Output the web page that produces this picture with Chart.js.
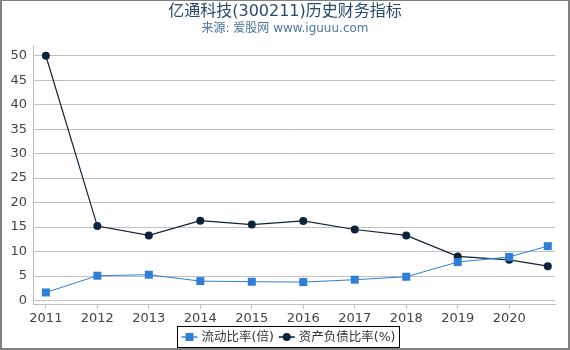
<!DOCTYPE html>
<html>
<head>
<meta charset="utf-8">
<script src="https://cdn.jsdelivr.net/npm/chart.js@4"></script>
<style>
  body { margin: 0; background: #fff; }
  #wrap { position: relative; width: 570px; height: 350px; }
  #frame {
    position: absolute; left: 0; top: 0; width: 570px; height: 350px;
    box-sizing: border-box; border: 2px solid #808080; border-top-width: 1px;
    pointer-events: none;
  }
</style>
</head>
<body>
<div id="wrap">
  <canvas id="myChart" width="570" height="350"></canvas>
  <div id="frame"></div>
</div>
<script>
const years = [2011, 2012, 2013, 2014, 2015, 2016, 2017, 2018, 2019, 2020, 2020.75];
const yearTicks = [2011, 2012, 2013, 2014, 2015, 2016, 2017, 2018, 2019, 2020];
const currentRatio = [1.64, 5.06, 5.26, 3.96, 3.83, 3.76, 4.24, 4.85, 7.85, 8.9, 11.1];
const debtRatio = [50.0, 15.2, 13.3, 16.3, 15.5, 16.25, 14.5, 13.3, 9.0, 8.3, 7.0];
const yTicks = [0, 5, 10, 15, 20, 25, 30, 35, 40, 45, 50];

const titleText = '亿通科技(300211)历史财务指标';
const subtitleText = '来源: 爱股网 www.iguuu.com';
const seriesNames = ['流动比率(倍)', '资产负债比率(%)'];
const colors = ['#2f7ed8', '#0d233a'];

const FONT = '"DejaVu Sans", "Noto Sans CJK SC", sans-serif';

function pairs(xs, ys) {
    return xs.map((x, i) => ({ x: x, y: ys[i] }));
}

// title, subtitle and boxed legend
const decor = {
    id: 'decor',
    afterDraw(chart) {
        const ctx = chart.ctx;
        const cx = chart.width / 2;
        ctx.save();
        ctx.textAlign = 'center';
        ctx.textBaseline = 'middle';
        ctx.fillStyle = '#274b6d';
        ctx.font = '16px ' + FONT;
        ctx.fillText(titleText, cx, 12);
        ctx.fillStyle = '#4d759e';
        ctx.font = '12px ' + FONT;
        ctx.fillText(subtitleText, cx, 29);

        // legend
        ctx.font = '12.5px ' + FONT;
        const iconW = 16, gap = 4, itemGap = 5, padX = 4;
        const widths = seriesNames.map(n => ctx.measureText(n).width);
        let total = padX * 2;
        widths.forEach((w, i) => { total += iconW + gap + w + (i ? itemGap : 0); });
        const left = Math.round(cx - total / 2 + 3) + 0.5;
        const top = 326.5, h = 21, my = 337;
        ctx.strokeStyle = '#000';
        ctx.lineWidth = 1;
        ctx.strokeRect(left, top, Math.round(total), h);
        let x = left + padX;
        ctx.textAlign = 'left';
        seriesNames.forEach((n, i) => {
            if (i) x += itemGap;
            ctx.strokeStyle = colors[i];
            ctx.lineWidth = 2;
            ctx.globalAlpha = i ? 0.8 : 0.7;
            ctx.beginPath();
            ctx.moveTo(x, my);
            ctx.lineTo(x + iconW, my);
            ctx.stroke();
            ctx.globalAlpha = 1;
            ctx.fillStyle = colors[i];
            if (i === 0) {
                ctx.fillRect(x + iconW / 2 - 4, my - 4, 8, 8);
            } else {
                ctx.beginPath();
                ctx.arc(x + iconW / 2, my, 4, 0, Math.PI * 2);
                ctx.fill();
            }
            x += iconW + gap;
            ctx.fillStyle = '#333';
            ctx.fillText(n, x, my + 1);
            x += widths[i];
        });
        ctx.restore();
    }
};

const data = {
    datasets: [
        {
            label: seriesNames[0],
            data: pairs(years, currentRatio),
            borderColor: colors[0],
            backgroundColor: colors[0],
            borderWidth: 1,
            pointStyle: 'rect',
            pointRadius: 5.66,
            pointHoverRadius: 5.66,
            pointBorderWidth: 0,
        },
        {
            label: seriesNames[1],
            data: pairs(years, debtRatio),
            borderColor: colors[1],
            backgroundColor: colors[1],
            borderWidth: 1.2,
            pointStyle: 'circle',
            pointRadius: 4,
            pointHoverRadius: 4,
            pointBorderWidth: 0,
        }
    ]
};

const config = {
    type: 'line',
    data: data,
    plugins: [decor],
    options: {
        responsive: false,
        animation: false,
        layout: { padding: { top: 45, right: 15, left: 0, bottom: 0 } },
        plugins: {
            legend: { display: false },
            title: { display: false },
            tooltip: { enabled: false },
        },
        scales: {
            x: {
                type: 'linear',
                min: 2010.75,
                max: 2020.89,
                afterBuildTicks: s => { s.ticks = yearTicks.map(v => ({ value: v })); },
                afterFit: s => { s.height = 46; },
                ticks: {
                    color: '#444',
                    font: { family: FONT, size: 13 },
                    padding: 2,
                    maxRotation: 0,
                    callback: v => String(v),
                },
                grid: { drawOnChartArea: false, drawTicks: true, tickLength: 5, color: '#c0c0c0' },
                border: { color: '#c0c0c0' },
            },
            y: {
                min: -0.72,
                max: 52.2,
                afterBuildTicks: s => { s.ticks = yTicks.map(v => ({ value: v })); },
                afterFit: s => { s.width = 33; },
                ticks: {
                    color: '#444',
                    font: { family: FONT, size: 13 },
                    padding: 6,
                },
                grid: { color: '#c0c0c0', drawTicks: false },
                border: { color: '#c0c0c0' },
            }
        }
    }
};

const chart = new Chart(document.getElementById('myChart'), config);
</script>
</body>
</html>
